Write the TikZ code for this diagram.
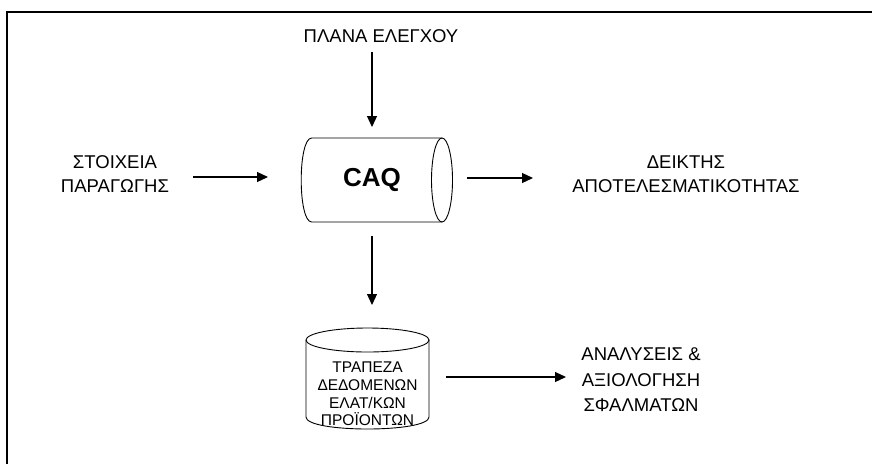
\documentclass[tikz,border=0pt]{standalone}
\usepackage{fontspec}
\setmainfont{Liberation Sans}
\usetikzlibrary{arrows.meta,calc}

\tikzset{
  lbl/.style={inner sep=0pt, align=center, font=\fontsize{18.5}{24}\selectfont},
  anlbl/.style={inner sep=0pt, align=center, font=\fontsize{18.5}{25.5}\selectfont},
  dblbl/.style={inner sep=0pt, align=center, font=\fontsize{15.5}{17.7}\selectfont},
  caqlbl/.style={inner sep=0pt, font=\fontsize{26}{30}\selectfont\bfseries},
  outline/.style={draw=black, line width=0.9pt},
  arr/.style={draw=black, line width=1.2pt, -{Triangle[length=11pt,width=10pt]}},
  frame/.style={draw=black, line width=2pt}
}

\begin{document}
\begin{tikzpicture}[x=1pt,y=-1pt]
  \useasboundingbox (0,0) rectangle (872,464);

  % page frame (top and left edges)
  \draw[frame] (6.5,464) -- (6.5,12) -- (872,12);

  % CAQ drum (horizontal cylinder)
  \draw[outline] (442,138) -- (311.7,138)
    .. controls (297.7,138) and (297.7,222) .. (311.7,222) -- (442,222);
  \draw[outline] (442,180) ellipse [x radius=10.5, y radius=42];

  % database cylinder
  \draw[outline] (367.5,340) ellipse [x radius=61.5, y radius=12];
  \draw[outline] (306,340) -- (306,417)
    .. controls (306,433) and (429,433) .. (429,417) -- (429,340);

  % labels
  \node[lbl] (plan) at (381,36) {ΠΛΑΝΑ ΕΛΕΓΧΟΥ};
  \node[lbl] (src) at (115,174) {ΣΤΟΙΧΕΙΑ\\ΠΑΡΑΓΩΓΗΣ};
  \node[caqlbl] (caq) at (372,180) {CAQ};
  \node[lbl] (kpi) at (686,174) {ΔΕΙΚΤΗΣ\\ΑΠΟΤΕΛΕΣΜΑΤΙΚΟΤΗΤΑΣ};
  \node[dblbl] (db) at (367.5,394) {ΤΡΑΠΕΖΑ\\ΔΕΔΟΜΕΝΩΝ\\ΕΛΑΤ/ΚΩΝ\\ΠΡΟΪΟΝΤΩΝ};
  \node[anlbl] (anal) at (641,380) {ΑΝΑΛΥΣΕΙΣ \&\\ΑΞΙΟΛΟΓΗΣΗ\\ΣΦΑΛΜΑΤΩΝ};

  % connectors
  \draw[arr] ($(plan.center)+(-9,16)$) -- ($(caq.center)+(0,-53)$);
  \draw[arr] ($(src.center)+(78,3)$) -- ($(caq.center)+(-104,-3)$);
  \draw[arr] ($(caq.center)+(95,-2)$) -- ($(kpi.center)+(-153,4)$);
  \draw[arr] ($(caq.center)+(0,56)$) -- ($(db.center)+(4.5,-89)$);
  \draw[arr] ($(db.center)+(78.5,-17)$) -- ($(anal.center)+(-75,-3)$);
\end{tikzpicture}
\end{document}
